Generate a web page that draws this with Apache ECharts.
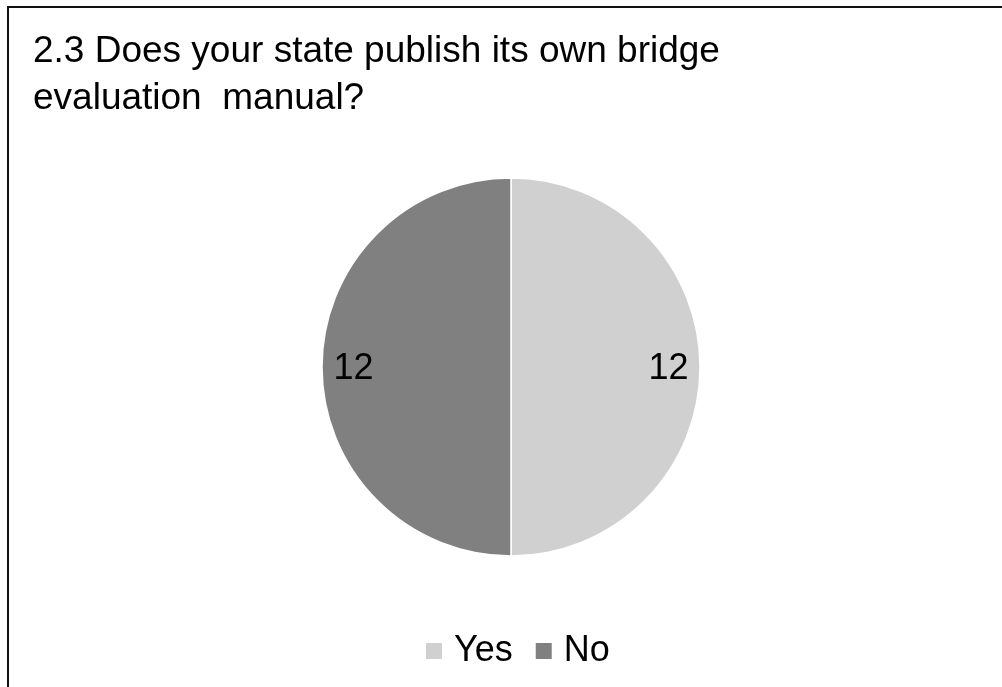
<!DOCTYPE html>
<html>
<head>
<meta charset="utf-8">
<script src="https://cdn.jsdelivr.net/npm/echarts@6/dist/echarts.min.js"></script>
<style>
  html, body { margin: 0; padding: 0; background: #fff; }
  #chart { width: 1002px; height: 687px; }
</style>
</head>
<body>
<div id="chart"></div>
<script>
// Survey answers for question 2.3
const titleText = '2.3 Does your state publish its own bridge\nevaluation  manual?';
const categories = ['Yes', 'No'];
const counts = [12, 12];
const sliceColors = ['#d0d0d0', '#808080'];

const FONT = '"Liberation Sans", Arial, sans-serif';

const sliceData = categories.map((name, i) => ({
  name: name,
  value: counts[i],
  itemStyle: { color: sliceColors[i] }
}));

const chart = echarts.init(document.getElementById('chart'), null, { renderer: 'canvas' });

chart.setOption({
  backgroundColor: '#ffffff',
  animation: false,
  title: {
    text: titleText,
    left: 33,
    top: 28,
    padding: 0,
    textStyle: {
      fontFamily: FONT,
      fontSize: 37,
      fontWeight: 'normal',
      color: '#000000',
      lineHeight: 47
    }
  },
  legend: {
    data: categories,
    left: 421,
    top: 628,
    itemWidth: 16,
    itemHeight: 16,
    itemGap: 23,
    icon: 'rect',
    itemStyle: { borderWidth: 0 },
    textStyle: {
      fontFamily: FONT,
      fontSize: 36,
      color: '#000000',
      padding: [0, 0, 0, 7]
    }
  },
  graphic: [{
    type: 'polyline',
    shape: { points: [[8, 687], [8, 7], [1002, 7]] },
    style: { stroke: '#111111', lineWidth: 2, fill: null },
    silent: true
  }],
  series: [
    {
      name: 'answers',
      type: 'pie',
      center: [511, 367],
      radius: 189,
      startAngle: 90,
      clockwise: true,
      label: { show: false },
      labelLine: { show: false },
      itemStyle: { borderColor: '#ffffff', borderWidth: 1.5 },
      emphasis: { disabled: true },
      data: sliceData
    },
    {
      name: 'answerLabels',
      type: 'pie',
      center: [511, 367],
      radius: [124, 185],
      startAngle: 90,
      clockwise: true,
      silent: true,
      itemStyle: { color: 'rgba(0,0,0,0)' },
      label: {
        show: true,
        position: 'inside',
        formatter: '{c}',
        fontFamily: FONT,
        fontSize: 36,
        color: '#000000',
        offset: [0, 2]
      },
      labelLine: { show: false },
      emphasis: { disabled: true },
      data: categories.map((name, i) => ({ name: name, value: counts[i] }))
    }
  ]
});
</script>
</body>
</html>
